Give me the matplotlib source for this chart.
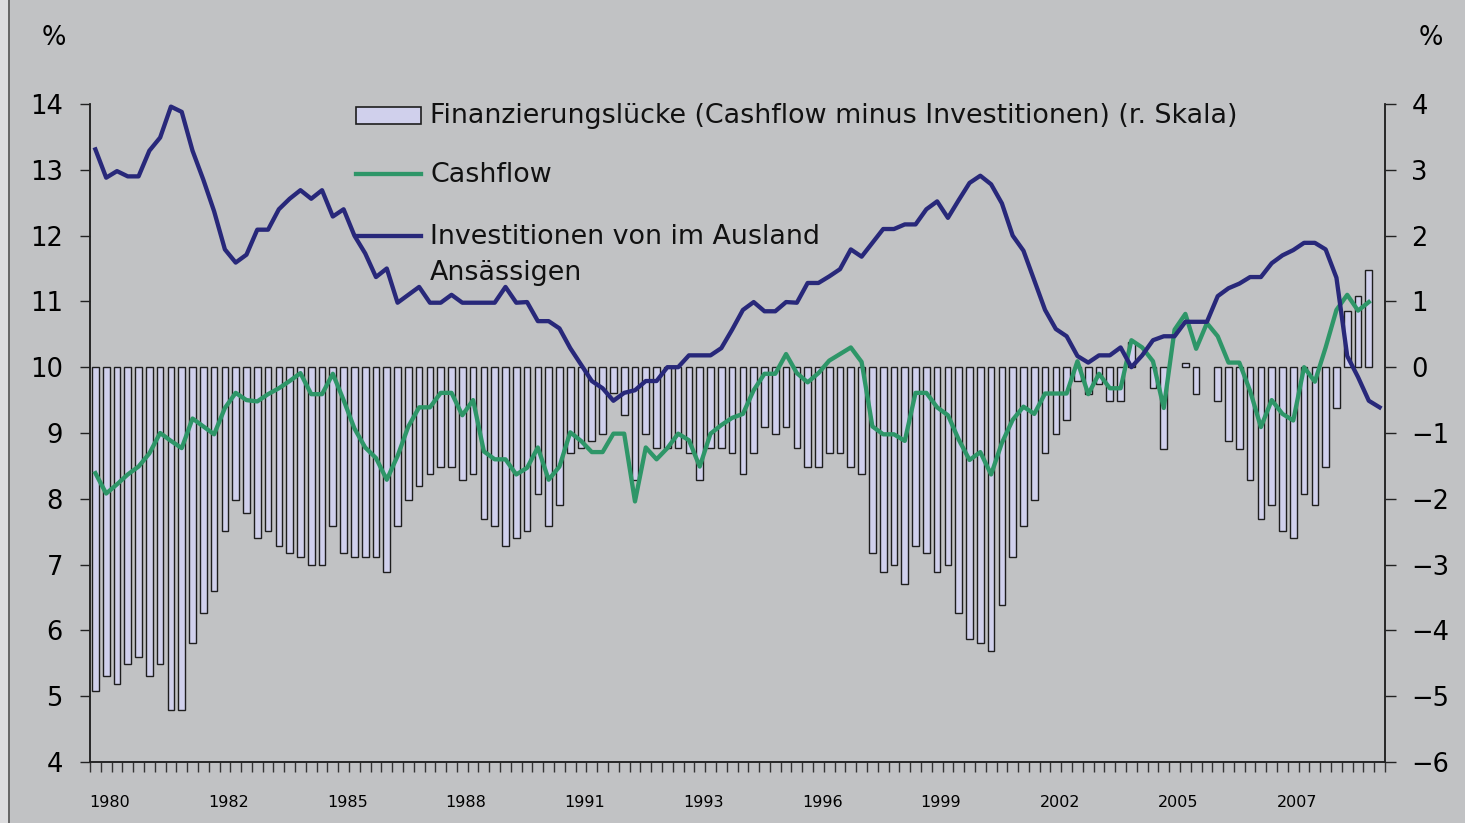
import matplotlib
matplotlib.use('Agg')
import matplotlib.pyplot as plt
from matplotlib.lines import Line2D
from matplotlib.patches import Rectangle
import numpy as np

plt.rcParams['font.family'] = ['DejaVu Sans']

# Investitionen von im Ausland Ansässigen (% , left scale), quarterly
investitionen = [
    13.31, 12.88, 12.98, 12.90, 12.90, 13.29, 13.49, 13.96, 13.88, 13.29,
    12.85, 12.37, 11.79, 11.59, 11.71, 12.09, 12.09, 12.40, 12.56, 12.69,
    12.56, 12.69, 12.29, 12.40, 12.00, 11.73, 11.37, 11.50, 10.98, 11.10,
    11.22, 10.98, 10.98, 11.10, 10.98, 10.98, 10.98, 10.98, 11.22, 10.98,
    10.99, 10.70, 10.70, 10.59, 10.29, 10.04, 9.79, 9.68, 9.49, 9.61,
    9.65, 9.79, 9.79, 10.00, 10.00, 10.18, 10.18, 10.18, 10.29, 10.57,
    10.87, 10.99, 10.85, 10.85, 10.99, 10.98, 11.28, 11.28, 11.38, 11.49,
    11.79, 11.68, 11.89, 12.10, 12.10, 12.17, 12.17, 12.40, 12.52, 12.27,
    12.54, 12.80, 12.91, 12.78, 12.49, 12.00, 11.77, 11.32, 10.87, 10.58,
    10.47, 10.17, 10.07, 10.18, 10.18, 10.30, 10.00, 10.18, 10.41, 10.47,
    10.47, 10.69, 10.69, 10.69, 11.08, 11.20, 11.27, 11.37, 11.37, 11.58,
    11.70, 11.78, 11.89, 11.89, 11.79, 11.36, 10.17, 9.85, 9.49, 9.39,
]

# Cashflow (%, left scale)
cashflow = [
    8.39, 8.08, 8.22, 8.37, 8.49, 8.69, 9.00, 8.88, 8.77, 9.22,
    9.10, 8.98, 9.38, 9.61, 9.50, 9.48, 9.59, 9.68, 9.79, 9.91,
    9.59, 9.59, 9.90, 9.50, 9.07, 8.78, 8.62, 8.29, 8.65, 9.10,
    9.39, 9.39, 9.61, 9.61, 9.27, 9.50, 8.72, 8.60, 8.60, 8.37,
    8.47, 8.78, 8.29, 8.49, 9.01, 8.88, 8.71, 8.71, 8.99, 8.99,
    7.96, 8.78, 8.60, 8.77, 8.99, 8.89, 8.49, 8.99, 9.12, 9.23,
    9.29, 9.65, 9.90, 9.90, 10.20, 9.91, 9.77, 9.91, 10.10, 10.20,
    10.30, 10.08, 9.10, 8.98, 8.98, 8.88, 9.61, 9.61, 9.39, 9.27,
    8.90, 8.59, 8.71, 8.37, 8.85, 9.20, 9.40, 9.29, 9.60, 9.60,
    9.60, 10.09, 9.59, 9.90, 9.68, 9.68, 10.41, 10.30, 10.09, 9.38,
    10.57, 10.81, 10.28, 10.67, 10.47, 10.07, 10.07, 9.64, 9.09, 9.50,
    9.29, 9.19, 10.00, 9.78, 10.30, 10.87, 11.10, 10.86, 10.99,
]

# Finanzierungslücke (Cashflow minus Investitionen) (%, right scale)
nan = float('nan')
luecke = [
    -4.92, -4.70, -4.81, -4.51, -4.40, -4.70, -4.51, -5.21, -5.21, -4.19,
    -3.73, -3.40, -2.49, -2.02, -2.21, -2.60, -2.49, -2.71, -2.82, -2.89,
    -3.00, -3.00, -2.42, -2.82, -2.89, -2.89, -2.89, -3.11, -2.42, -2.02,
    -1.81, -1.63, -1.52, -1.52, -1.71, -1.63, -2.31, -2.42, -2.71, -2.60,
    -2.49, -1.92, -2.42, -2.10, -1.30, -1.23, -1.12, -1.01, -0.39, -0.73,
    -1.71, -1.01, -1.23, -1.23, -1.23, -1.30, -1.71, -1.23, -1.23, -1.30,
    -1.63, -1.30, -0.91, -1.01, -0.91, -1.23, -1.52, -1.52, -1.30, -1.30,
    -1.52, -1.63, -2.82, -3.11, -3.00, -3.29, -2.71, -2.82, -3.11, -3.00,
    -3.73, -4.13, -4.19, -4.31, -3.62, -2.89, -2.42, -2.02, -1.30, -1.01,
    -0.80, -0.21, -0.40, -0.25, -0.51, -0.51, 0.38, nan, -0.32, -1.24,
    nan, 0.07, -0.40, nan, -0.51, -1.12, -1.24, -1.71, -2.31, -2.10,
    -2.49, -2.60, -1.92, -2.10, -1.52, -0.62, 0.86, 1.08, 1.48,
]

year_labels = ['1980', '1982', '1985', '1988', '1991', '1993',
               '1996', '1999', '2002', '2005', '2007']
label_idx = [1, 12, 23, 34, 45, 56, 67, 78, 89, 100, 111]

legend_labels = ['Finanzierungslücke (Cashflow minus Investitionen) (r. Skala)',
                 'Cashflow',
                 'Investitionen von im Ausland', 'Ansässigen']

BG = '#c1c2c4'
BAR = '#d0d0ec'
GREEN = '#2e9668'
BLUE = '#28287a'
AXC = '#222222'

W, H = 1465, 823
fig = plt.figure(figsize=(W / 100, H / 100), dpi=100)
fig.patch.set_facecolor(BG)

# left frame strip
fig.add_artist(Rectangle((0, 0), 8 / W, 1, transform=fig.transFigure,
                         facecolor='#dcdcde', edgecolor='none'))
fig.add_artist(Line2D([8.5 / W, 8.5 / W], [0, 1], transform=fig.transFigure,
                      color='#555555', lw=1.2))

ax = fig.add_axes([90 / W, 61 / H, 1295 / W, 658 / H])
ax2 = ax.twinx()
ax.set_zorder(ax2.get_zorder() + 1)
ax.patch.set_visible(False)
ax2.patch.set_visible(False)

n = len(investitionen)
ax2.bar(np.arange(len(luecke)), luecke, width=0.62, color=BAR,
        edgecolor='#1e1e1e', linewidth=1.0)
ax.plot(np.arange(len(cashflow)), cashflow, color=GREEN, lw=3.1)
ax.plot(np.arange(n), investitionen, color=BLUE, lw=3.1)

ax.set_xlim(-0.5, n - 0.5)
ax.set_ylim(4, 14)
ax2.set_ylim(-6, 4)

ax.set_yticks(range(4, 15))
ax2.set_yticks(range(-6, 5))
ax.tick_params(axis='y', direction='out', length=7, width=1, pad=12.5,
               labelsize=18.5, color=AXC)
ax2.tick_params(axis='y', direction='out', length=8, width=1, pad=11,
                labelsize=18.5, color=AXC)

ax.set_xticks(np.arange(-0.5, n + 0.5, 1), minor=True)
ax.set_xticks([i + 0.35 for i in label_idx])
ax.set_xticklabels(year_labels)
ax.tick_params(axis='x', which='major', length=0, pad=24, labelsize=11.5)
ax.tick_params(axis='x', which='minor', direction='out', length=7,
               width=1, color='#333333')

for a in (ax, ax2):
    a.spines['top'].set_visible(False)
    for s in ('left', 'right', 'bottom'):
        a.spines[s].set_color(AXC)
        a.spines[s].set_linewidth(1.1)

# percent unit labels
fig.text(54 / W, 1 - 38 / H, '%', ha='center', va='center', fontsize=18.5)
fig.text(1431 / W, 1 - 38 / H, '%', ha='center', va='center', fontsize=18.5)

# legend (drawn by hand to keep the Excel layout)
fig.add_artist(Rectangle((356 / W, 1 - 124 / H), 65 / W, 17 / H,
                         transform=fig.transFigure, facecolor=BAR,
                         edgecolor='#1e1e1e', lw=1.2))
fig.add_artist(Line2D([356 / W, 421 / W], [1 - 174 / H] * 2,
                      transform=fig.transFigure, color=GREEN, lw=3.1))
fig.add_artist(Line2D([356 / W, 421 / W], [1 - 236 / H] * 2,
                      transform=fig.transFigure, color=BLUE, lw=3.1))
for txt, yy in zip(legend_labels, [113, 172, 234, 270]):
    fig.text(430 / W, 1 - yy / H, txt, ha='left', va='center_baseline',
             fontsize=19.4, color='#111111')

fig.savefig('out.png', dpi=100, facecolor=BG)
